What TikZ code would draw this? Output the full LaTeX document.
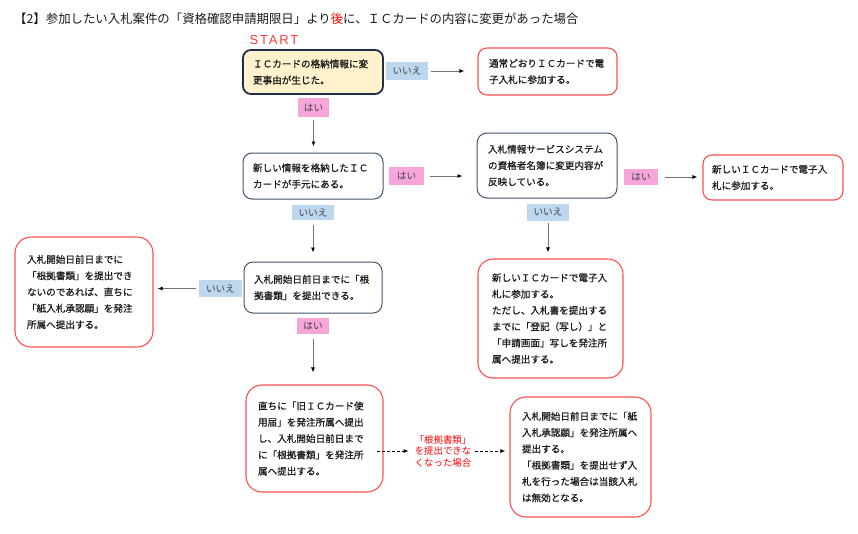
\documentclass[tikz,border=0pt]{standalone}
\usepackage{fontspec}
\setmainfont{Liberation Sans}
\newfontfamily\jp{Noto Sans CJK JP}
\newfontfamily\jpb{Noto Sans CJK JP}[FakeBold=0.6]
\usetikzlibrary{arrows.meta,positioning,calc}
\definecolor{boxred}{HTML}{FF4F4F}
\definecolor{boxgray}{HTML}{44546A}
\definecolor{startborder}{HTML}{1F2D4A}
\definecolor{startfill}{HTML}{FFF2CC}
\definecolor{lblue}{HTML}{BDD7EE}
\definecolor{lpink}{HTML}{F7A6D9}
\definecolor{txt}{HTML}{1A1A1A}
\definecolor{starttxt}{HTML}{FF3B3B}
\newcommand{\boxfont}{\jpb\fontsize{9.6pt}{16.3pt}\selectfont}
\tikzset{
  basebox/.style={rounded corners=#1, align=left, inner xsep=0pt, inner ysep=0pt, text=txt, font=\boxfont},
  redbox/.style={basebox=#1, draw=boxred, line width=1.1pt},
  graybox/.style={basebox=#1, draw=boxgray, line width=1pt},
  startbox/.style={basebox=8pt, draw=startborder, fill=startfill, line width=1.8pt},
  lbl/.style={inner sep=0pt, text=black!75, font=\jp\fontsize{9.6pt}{11pt}\selectfont},
  nolbl/.style={lbl, fill=lblue},
  yeslbl/.style={lbl, fill=lpink},
  arr/.style={draw=black!55, line width=0.8pt, -{Latex[length=5pt,width=4pt,color=black]}},
  darr/.style={draw=black, line width=0.8pt, dash pattern=on 3pt off 2pt, -{Latex[length=5pt,width=4pt,color=black]}}
}
\begin{document}
\begin{tikzpicture}[x=1pt,y=-1pt]
\useasboundingbox (0,0) rectangle (858,533);
% title
\node[anchor=west, inner sep=0pt, text=txt, font=\jp\fontsize{12.4pt}{14pt}\selectfont] (title) at (14,19)
  {【2】参加したい入札案件の「資格確認申請期限日」より{\color{red}後}に、ＩＣカードの内容に変更があった場合};
% start
\node[inner sep=0pt, text=starttxt, font=\fontsize{13pt}{14pt}\selectfont\addfontfeature{LetterSpace=14}] (start) at (274,40) {START};
% boxes
\node[startbox, minimum width=140pt, minimum height=44pt, text width=120pt] (b1) at (313,72)
  {ＩＣカードの格納情報に変\\更事由が生じた。};
\node[redbox=9pt, minimum width=139pt, minimum height=47pt, text width=117pt] (b2) at (547.5,71.5)
  {通常どおりＩＣカードで電\\子入札に参加する。};
\node[graybox=9pt, minimum width=140pt, minimum height=46pt, text width=120pt] (b3) at (313,176)
  {新しい情報を格納したＩＣ\\カードが手元にある。};
\node[graybox=10pt, minimum width=140pt, minimum height=65pt, text width=118pt] (b4) at (547,165.5)
  {入札情報サービスシステム\\の資格者名簿に変更内容が\\反映している。};
\node[redbox=9pt, minimum width=140pt, minimum height=45pt, text width=122pt] (b5) at (773,177.5)
  {新しいＩＣカードで電子入\\札に参加する。};
\node[redbox=15pt, minimum width=145pt, minimum height=119pt, text width=117pt] (b6) at (550.5,318.5)
  {新しいＩＣカードで電子入\\札に参加する。\\ただし、入札書を提出する\\までに「登記（写し）」と\\「申請画面」写しを発注所\\属へ提出する。};
\node[graybox=9pt, minimum width=138pt, minimum height=51pt, text width=118pt] (b7) at (313,287.5)
  {入札開始日前日までに「根\\拠書類」を提出できる。};
\node[redbox=16pt, minimum width=138pt, minimum height=110pt, text width=114pt] (b8) at (84,292)
  {入札開始日前日までに\\「根拠書類」を提出でき\\ないのであれば、直ちに\\「紙入札承認願」を発注\\所属へ提出する。};
\node[redbox=16pt, minimum width=137pt, minimum height=107pt, text width=113pt] (b9) at (314.5,438.5)
  {直ちに「旧ＩＣカード使\\用届」を発注所属へ提出\\し、入札開始日前日まで\\に「根拠書類」を発注所\\属へ提出する。};
\node[redbox=16pt, minimum width=141pt, minimum height=120pt, text width=117pt] (b10) at (580.5,457)
  {入札開始日前日までに「紙\\入札承認願」を発注所属へ\\提出する。\\「根拠書類」を提出せず入\\札を行った場合は当該入札\\は無効となる。};
% labels
\node[nolbl, minimum width=42pt, minimum height=18pt] (l1) at (407,71) {いいえ};
\node[yeslbl, minimum width=31pt, minimum height=19pt] (l2) at (313.5,107.5) {はい};
\node[yeslbl, minimum width=35pt, minimum height=18pt] (l3) at (406.5,176) {はい};
\node[yeslbl, minimum width=34pt, minimum height=16pt] (l4) at (641,177) {はい};
\node[nolbl, minimum width=42pt, minimum height=17pt] (l5) at (548,212) {いいえ};
\node[nolbl, minimum width=42pt, minimum height=15pt] (l6) at (313,212.5) {いいえ};
\node[nolbl, minimum width=43pt, minimum height=17pt] (l7) at (220.5,288.5) {いいえ};
\node[yeslbl, minimum width=32pt, minimum height=16pt] (l8) at (313,326) {はい};
\node[inner sep=0pt, align=center, text=red, font=\jp\fontsize{9.4pt}{11.5pt}\selectfont] (rl) at (443,451)
  {「根拠書類」\\を提出できな\\くなった場合};
% connectors
\draw[arr, shorten <=3pt, shorten >=13pt] (l1.east) -- (l1.east -| b2.west);
\draw[arr, shorten <=3pt, shorten >=6pt] (l2.south) -- (l2.south |- b3.north);
\draw[arr, shorten <=6pt, shorten >=14pt] (l3.east) -- (l3.east -| b4.west);
\draw[arr, shorten <=7pt, shorten >=5pt] (l4.east) -- (l4.east -| b5.west);
\draw[arr, shorten <=2.5pt, shorten >=6pt] (l5.south) -- (l5.south |- b6.north);
\draw[arr, shorten <=5pt, shorten >=9pt] (l6.south) -- (l6.south |- b7.north);
\draw[arr, shorten <=3pt, shorten >=4pt] (l7.west) -- (l7.west -| b8.east);
\draw[arr, shorten <=5pt, shorten >=12pt] (l8.south) -- (l8.south |- b9.north);
\coordinate (d1) at (b9.east |- rl.center);
\coordinate (d2) at (rl.west);
\draw[darr, shorten <=-7pt, shorten >=6pt] (d1) -- (d2);
\draw[darr, shorten <=4pt, shorten >=4pt] (rl.east) -- (rl.east -| b10.west);
\end{tikzpicture}
\end{document}
